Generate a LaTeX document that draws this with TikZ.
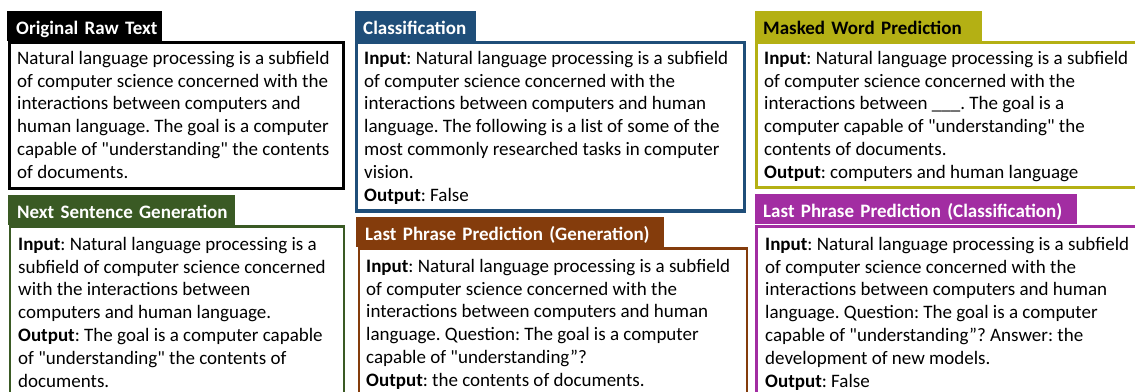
\documentclass[tikz,border=0pt]{standalone}
\usepackage{fontspec}
\setmainfont{Carlito}[Ligatures=TeXOff]
\usepackage{xcolor}
\usepackage{tikz}
\usetikzlibrary{positioning}
\frenchspacing

\definecolor{rawblack}{HTML}{000000}
\definecolor{clsblue}{HTML}{1F4E79}
\definecolor{mwpolive}{HTML}{B4B014}
\definecolor{nsggreen}{HTML}{3A5A24}
\definecolor{lpgbrown}{HTML}{843C0C}
\definecolor{lpcpurple}{HTML}{A22DA2}

\begin{document}
\begin{tikzpicture}[
  x=1pt, y=-1pt,
  panel/.style={draw=#1, line width=2.8pt, fill=white},
  tab/.style={fill=#1, text=white, anchor=north west, inner xsep=0pt, inner ysep=0pt,
    minimum height=30pt, text height=16pt, text depth=0pt, align=left,
    font=\fontsize{19}{22.8}\selectfont\bfseries},
  body/.style={anchor=north west, inner sep=0pt, align=left,
    font=\fontsize{19}{22.8}\selectfont}
]
\path[use as bounding box, clip] (0,0) rectangle (1135,391);

\draw[panel=rawblack, line width=3.2pt] (9.5,42.5) rectangle (343.5,188.5);
\node[tab=rawblack, text width=155pt] (rawtab) at (7,11) {\hspace*{9pt}Original Raw Text};
\node[body] (rawbody) at (17,49) {\rule{0pt}{15pt}Natural language processing is a subfield\\
of computer science concerned with the\\
interactions between computers and\\
human language. The goal is a computer\\
capable of "understanding" the contents\\
of documents.};

\draw[panel=clsblue, line width=3.2pt] (356.5,42.5) rectangle (744.5,211);
\node[tab=clsblue, text width=121pt] (clstab) at (355,11) {\hspace*{8pt}Classification};
\node[body] (clsbody) at (364,49) {\rule{0pt}{15pt}\textbf{Input}: Natural language processing is a subfield\\
of computer science concerned with the\\
interactions between computers and human\\
language. The following is a list of some of the\\
most commonly researched tasks in computer\\
vision.\\
\textbf{Output}: False};

\draw[panel=mwpolive, line width=3pt] (756.5,42.5) rectangle (1150,187);
\node[tab=mwpolive, text=black, text width=227pt] (mwptab) at (755,11) {\hspace*{8pt}Masked Word Prediction};
\node[body] (mwpbody) at (764,49) {\rule{0pt}{15pt}\textbf{Input}: Natural language processing is a subfield\\
of computer science concerned with the\\
interactions between \_\_\_. The goal is a\\
computer capable of "understanding" the\\
contents of documents.\\
\textbf{Output}: computers and human language};

\draw[panel=nsggreen] (10,226.5) rectangle (344,400);
\node[tab=nsggreen, text width=227pt] (nsgtab) at (8,195) {\hspace*{9pt}Next Sentence Generation};
\node[body] (nsgbody) at (18,235) {\rule{0pt}{15pt}\textbf{Input}: Natural language processing is a\\
subfield of computer science concerned\\
with the interactions between\\
computers and human language.\\
\textbf{Output}: The goal is a computer capable\\
of "understanding" the contents of\\
documents.};

\draw[panel=lpgbrown] (359,248.5) rectangle (747,400);
\node[tab=lpgbrown, text width=308pt] (lpgtab) at (356,217) {\hspace*{9pt}Last Phrase Prediction (Generation)};
\node[body] (lpgbody) at (366,257) {\rule{0pt}{15pt}\textbf{Input}: Natural language processing is a subfield\\
of computer science concerned with the\\
interactions between computers and human\\
language. Question: The goal is a computer\\
capable of "understanding”?\\
\textbf{Output}: the contents of documents.};

\draw[panel=lpcpurple] (756.5,226.5) rectangle (1150,400);
\node[tab=lpcpurple, text width=322pt] (lpctab) at (755,194) {\hspace*{8pt}Last Phrase Prediction (Classification)};
\node[body] (lpcbody) at (765,235) {\rule{0pt}{15pt}\textbf{Input}: Natural language processing is a subfield\\
of computer science concerned with the\\
interactions between computers and human\\
language. Question: The goal is a computer\\
capable of "understanding”? Answer: the\\
development of new models.\\
\textbf{Output}: False};
\end{tikzpicture}
\end{document}
